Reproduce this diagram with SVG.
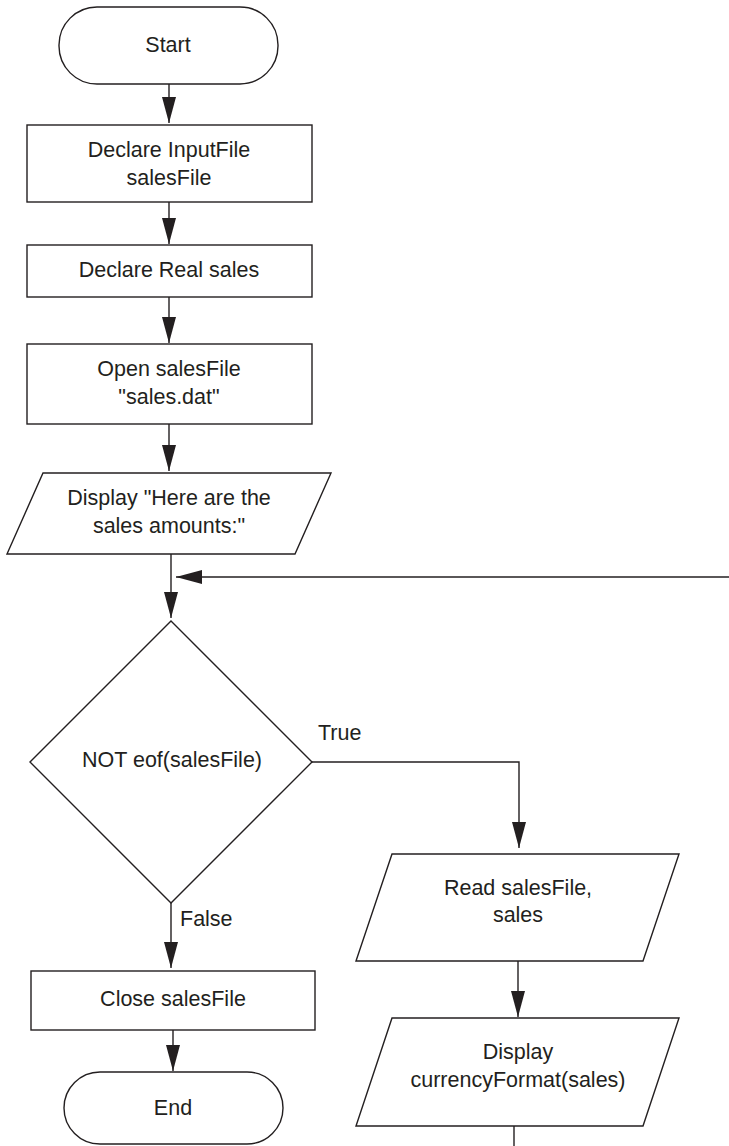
<svg xmlns="http://www.w3.org/2000/svg" width="729" height="1146" viewBox="0 0 729 1146">
<style>
.s{fill:#fff;stroke:#231f20;stroke-width:1.4}
.c{fill:none;stroke:#231f20;stroke-width:1.4}
text{font-family:"Liberation Sans",Arial,sans-serif;font-size:21.5px;fill:#231f20;text-anchor:middle;dominant-baseline:central}
.l{text-anchor:start}
</style>
<defs>
<marker id="ah" markerUnits="userSpaceOnUse" markerWidth="26" markerHeight="14" refX="26" refY="7" orient="auto" viewBox="0 0 26 14">
<path d="M0,0 L26,7 L0,14 z" fill="#231f20"/>
</marker>
</defs>
<g id="connectors">
<line class="c" x1="169" y1="84" x2="169" y2="123" marker-end="url(#ah)"/>
<line class="c" x1="169" y1="202" x2="169" y2="244" marker-end="url(#ah)"/>
<line class="c" x1="169" y1="297" x2="169" y2="343" marker-end="url(#ah)"/>
<line class="c" x1="169" y1="424" x2="169" y2="471" marker-end="url(#ah)"/>
<line class="c" x1="171" y1="554" x2="171" y2="618" marker-end="url(#ah)"/>
<line class="c" x1="729" y1="577" x2="176" y2="577" marker-end="url(#ah)"/>
<polyline class="c" points="312,762 519,762 519,848" marker-end="url(#ah)"/>
<line class="c" x1="171" y1="903" x2="171" y2="968" marker-end="url(#ah)"/>
<line class="c" x1="173" y1="1030" x2="173" y2="1071" marker-end="url(#ah)"/>
<line class="c" x1="518" y1="961" x2="518" y2="1017" marker-end="url(#ah)"/>
<line class="c" x1="514" y1="1126" x2="514" y2="1146"/>
<text class="l" x="318" y="733">True</text>
<text class="l" x="180" y="919">False</text>
</g>
<g id="start">
<rect class="s" x="59" y="7" width="219" height="77" rx="38" ry="38"/>
<text x="168" y="45">Start</text>
</g>
<g id="declareInput">
<rect class="s" x="27" y="125" width="285" height="77"/>
<text x="169" y="150">Declare InputFile</text>
<text x="169" y="178">salesFile</text>
</g>
<g id="declareReal">
<rect class="s" x="27" y="245" width="285" height="52"/>
<text x="169" y="270">Declare Real sales</text>
</g>
<g id="open">
<rect class="s" x="27" y="344" width="285" height="80"/>
<text x="169" y="369">Open salesFile</text>
<text x="169" y="397">"sales.dat"</text>
</g>
<g id="display1">
<polygon class="s" points="43,473 331,473 295,554 7,554"/>
<text x="169" y="498">Display "Here are the</text>
<text x="169" y="526">sales amounts:"</text>
</g>
<g id="decision">
<polygon class="s" points="171,621 312,762 171,903 30,762"/>
<text x="172" y="760">NOT eof(salesFile)</text>
</g>
<g id="read">
<polygon class="s" points="392,854 679,854 643,961 356,961"/>
<text x="518" y="888">Read salesFile,</text>
<text x="518" y="915">sales</text>
</g>
<g id="display2">
<polygon class="s" points="392,1018 679,1018 643,1126 356,1126"/>
<text x="518" y="1052">Display</text>
<text x="518" y="1080">currencyFormat(sales)</text>
</g>
<g id="close">
<rect class="s" x="31" y="971" width="284" height="59"/>
<text x="173" y="999">Close salesFile</text>
</g>
<g id="end">
<rect class="s" x="64" y="1072" width="219" height="72" rx="36" ry="36"/>
<text x="173" y="1108">End</text>
</g>
</svg>
